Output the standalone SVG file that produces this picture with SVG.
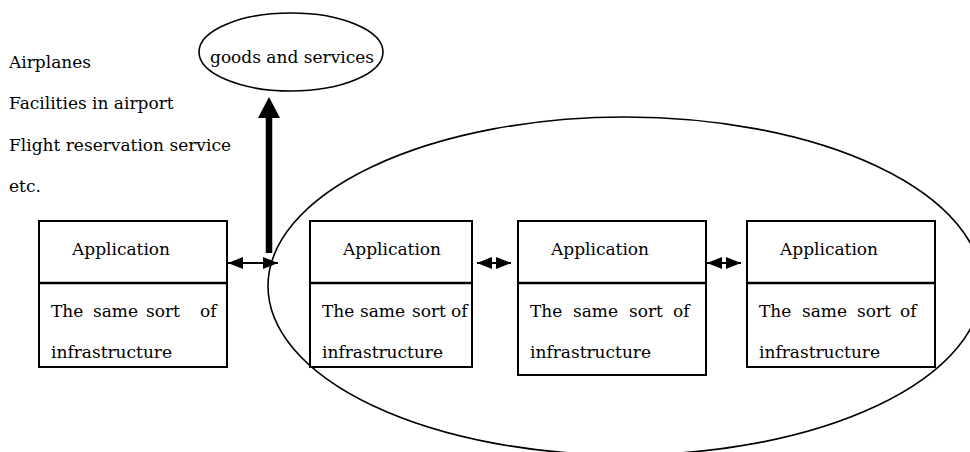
<svg xmlns="http://www.w3.org/2000/svg" width="970" height="452" viewBox="0 0 970 452">
<style>
text{font-family:"DejaVu Serif","Liberation Serif",serif;font-size:17px;fill:#000}
.box{fill:#fff;stroke:#000;stroke-width:2}
.div{stroke:#000;stroke-width:2.5}
.ell{fill:none;stroke:#000;stroke-width:1.6}
.conn{stroke:#000;stroke-width:2;fill:none}
</style>
<defs>
<marker id="ah" markerUnits="userSpaceOnUse" markerWidth="15" markerHeight="12" refX="15" refY="6" orient="auto-start-reverse">
<path d="M0,0 L15,6 L0,12 z" fill="#000"/>
</marker>
</defs>
<rect width="970" height="452" fill="#fff"/>
<g id="group-ellipse">
<ellipse class="ell" cx="625" cy="286" rx="357" ry="169"/>
</g>
<g id="list">
<text x="9" y="68">Airplanes</text>
<text x="9" y="109">Facilities in airport</text>
<text x="9" y="151">Flight reservation service</text>
<text x="9" y="192">etc.</text>
</g>
<g id="goods">
<ellipse class="ell" cx="291" cy="52" rx="92" ry="39"/>
<text x="210" y="63">goods and services</text>
</g>
<g id="node1">
<rect class="box" x="39" y="221" width="188" height="146"/>
<line class="div" x1="39" y1="283" x2="227" y2="283"/>
<text x="72" y="255">Application</text>
<text y="317"><tspan x="51">The</tspan><tspan x="93">same</tspan><tspan x="146">sort</tspan><tspan x="200">of</tspan></text>
<text x="51" y="358">infrastructure</text>
</g>
<g id="node2">
<rect class="box" x="310" y="221" width="162" height="146"/>
<line class="div" x1="310" y1="283" x2="472" y2="283"/>
<text x="343" y="255">Application</text>
<text y="317"><tspan x="322">The</tspan><tspan x="360">same</tspan><tspan x="412">sort</tspan><tspan x="451">of</tspan></text>
<text x="322" y="358">infrastructure</text>
</g>
<g id="node3">
<rect class="box" x="518" y="221" width="188" height="154"/>
<line class="div" x1="518" y1="283" x2="706" y2="283"/>
<text x="551" y="255">Application</text>
<text y="317"><tspan x="530">The</tspan><tspan x="573">same</tspan><tspan x="629">sort</tspan><tspan x="673">of</tspan></text>
<text x="530" y="358">infrastructure</text>
</g>
<g id="node4">
<rect class="box" x="747" y="221" width="188" height="146"/>
<line class="div" x1="747" y1="283" x2="935" y2="283"/>
<text x="780" y="255">Application</text>
<text y="317"><tspan x="759">The</tspan><tspan x="802">same</tspan><tspan x="857">sort</tspan><tspan x="900">of</tspan></text>
<text x="759" y="358">infrastructure</text>
</g>
<g id="connectors">
<line x1="269" y1="253" x2="269" y2="116" stroke="#000" stroke-width="6.5"/>
<polygon points="269,97 280,118 258,118" fill="#000"/>
<line class="conn" x1="228" y1="263" x2="278" y2="263" marker-start="url(#ah)" marker-end="url(#ah)"/>
<line class="conn" x1="477" y1="263" x2="511" y2="263" marker-start="url(#ah)" marker-end="url(#ah)"/>
<line class="conn" x1="707" y1="263" x2="741" y2="263" marker-start="url(#ah)" marker-end="url(#ah)"/>
</g>
</svg>
